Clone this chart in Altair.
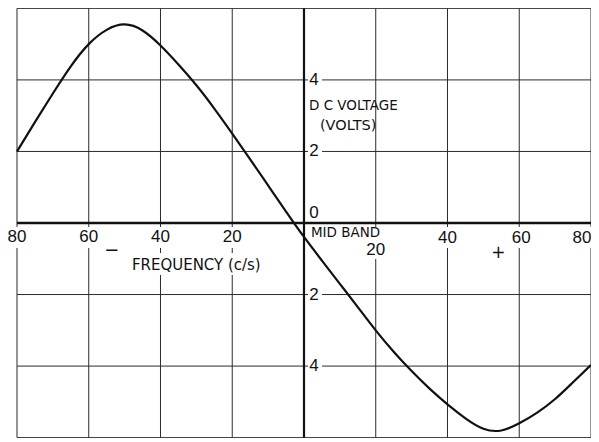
import altair as alt
import pandas as pd

# ---- data ----
freq = [-80, -75, -70, -65, -60, -55, -50, -45, -40, -35, -30, -25, -20, -15, -10, -5,
        0, 5, 10, 15, 20, 25, 30, 35, 40, 45, 50, 55, 60, 65, 70, 75, 80]
volts = [2.0, 2.82, 3.62, 4.38, 5.0, 5.4, 5.55, 5.38, 4.96, 4.43, 3.85, 3.2, 2.5, 1.78, 1.05, 0.32,
         -0.39, -1.05, -1.7, -2.35, -3.0, -3.6, -4.14, -4.63, -5.07, -5.46, -5.75, -5.8, -5.6, -5.3,
         -4.92, -4.45, -3.97]

x_grid = [-80, -60, -40, -20, 20, 40, 60, 80]
y_grid = [-6, -4, -2, 2, 4, 6]

x_left_ticks = [-80, -60, -40, -20]
x_left_labels = ["80", "60", "40", "20"]
x_right_ticks = [40, 60, 80]
x_right_labels = ["40", "60", "80"]
x_mid_tick = [20]
x_mid_label = ["20"]
y_ticks = [4, 2, -2, -4]
y_labels = ["4", "2", "2", "4"]

DIGIT_FONT = "Liberation Sans"
TEXT_FONT = "DejaVu Sans"
INK = "#111111"

xs = alt.Scale(domain=[-80, 80], nice=False, zero=False)
ys = alt.Scale(domain=[-6, 6], nice=False, zero=False)

curve_df = pd.DataFrame({"f": freq, "v": volts})
xg_df = pd.DataFrame({"f": x_grid})
yg_df = pd.DataFrame({"v": y_grid})
xl_df = pd.DataFrame({"f": x_left_ticks, "lab": x_left_labels, "v": 0})
xr_df = pd.DataFrame({"f": x_right_ticks, "lab": x_right_labels, "v": 0})
xm_df = pd.DataFrame({"f": x_mid_tick, "lab": x_mid_label, "v": 0})
yl_df = pd.DataFrame({"v": y_ticks, "lab": y_labels, "f": 0})
zero_df = pd.DataFrame({"z": [0]})

X = lambda fld: alt.X(fld, scale=xs, axis=None)
Y = lambda fld: alt.Y(fld, scale=ys, axis=None)

vgrid = alt.Chart(xg_df).mark_rule(color="#2a2a2a", strokeWidth=1).encode(x=X("f:Q"))
hgrid = alt.Chart(yg_df).mark_rule(color="#2a2a2a", strokeWidth=1).encode(y=Y("v:Q"))
vaxis = alt.Chart(zero_df).mark_rule(color=INK, strokeWidth=2.2).encode(x=X("z:Q"))
haxis = alt.Chart(zero_df).mark_rule(color=INK, strokeWidth=2.4).encode(y=Y("z:Q"))

# white backing boxes that break the grid lines behind labels
def box(df, xo, x2o, yo, y2o):
    return alt.Chart(df).mark_rect(color="white", xOffset=xo, x2Offset=x2o, yOffset=yo, y2Offset=y2o).encode(
        x=X("f:Q"), x2="f:Q", y=Y("v:Q"), y2="v:Q")

box_y = box(yl_df, 4, 18, -7, 7)
box_xl = box(xl_df, -10, 10, 4, 25)
box_xr = box(xr_df.iloc[:2], -10, 10, 4, 25)
box_x80 = box(xr_df.iloc[2:], -18, 3, 4, 25)
box_xm = box(xm_df, -10, 10, 4, 36)
freq_df = pd.DataFrame({"f": [-30], "v": [0], "lab": ["FREQUENCY (c/s)"]})
box_freq = box(freq_df, -68, 68, 30, 52)

curve = alt.Chart(curve_df).mark_line(color=INK, strokeWidth=2.2, interpolate="natural").encode(
    x=X("f:Q"), y=Y("v:Q"))

def txt(df, dx=0, dy=0, size=17, font=DIGIT_FONT, align="center"):
    return alt.Chart(df).mark_text(font=font, fontSize=size, dx=dx, dy=dy, align=align,
                                   baseline="middle", color=INK).encode(
        x=X("f:Q"), y=Y("v:Q"), text="lab:N")

t_xl = txt(xl_df, dy=14)
t_xr = txt(xr_df.iloc[:1], dy=15)
t_x60 = txt(xr_df.iloc[1:2], dx=2, dy=15)
t_x80 = txt(xr_df.iloc[2:], dx=-9, dy=15)
t_xm = txt(xm_df, dy=27)
t_y = txt(yl_df, dx=10)
t_zero = txt(pd.DataFrame({"f": [0], "v": [0], "lab": ["0"]}), dx=10, dy=-10)
t_mid = txt(pd.DataFrame({"f": [0], "v": [0], "lab": ["MID BAND"]}), dx=7, dy=10, size=13.5,
            font=TEXT_FONT, align="left")
t_freq = txt(freq_df, dy=42, size=15, font=TEXT_FONT)
t_minus = txt(pd.DataFrame({"f": [-55], "v": [0], "lab": ["\u2212"]}), dx=5, dy=28, size=18, font=TEXT_FONT)
t_plus = txt(pd.DataFrame({"f": [55], "v": [0], "lab": ["+"]}), dx=-3, dy=30, size=17, font=TEXT_FONT)
t_dc = txt(pd.DataFrame({"f": [0], "v": [3], "lab": ["D C VOLTAGE"]}), dx=5, dy=-10, size=13.5,
           font=TEXT_FONT, align="left")
t_volts = txt(pd.DataFrame({"f": [0], "v": [3], "lab": ["(VOLTS)"]}), dx=16, dy=10, size=14.5,
              font=TEXT_FONT, align="left")

chart = alt.layer(
    vgrid, hgrid, vaxis, haxis,
    box_y, box_xl, box_xr, box_x80, box_xm, box_freq,
    curve,
    t_xl, t_xr, t_x60, t_x80, t_xm, t_y, t_zero, t_mid, t_freq, t_minus, t_plus, t_dc, t_volts,
).properties(
    width=575, height=430,
    padding={"left": 9, "top": 0, "right": 0, "bottom": 0},
    autosize=alt.AutoSizeParams(type="none"),
    background="white",
).configure_view(stroke=None)

chart.save("out.html", embed_options={"renderer": "svg", "actions": False})
